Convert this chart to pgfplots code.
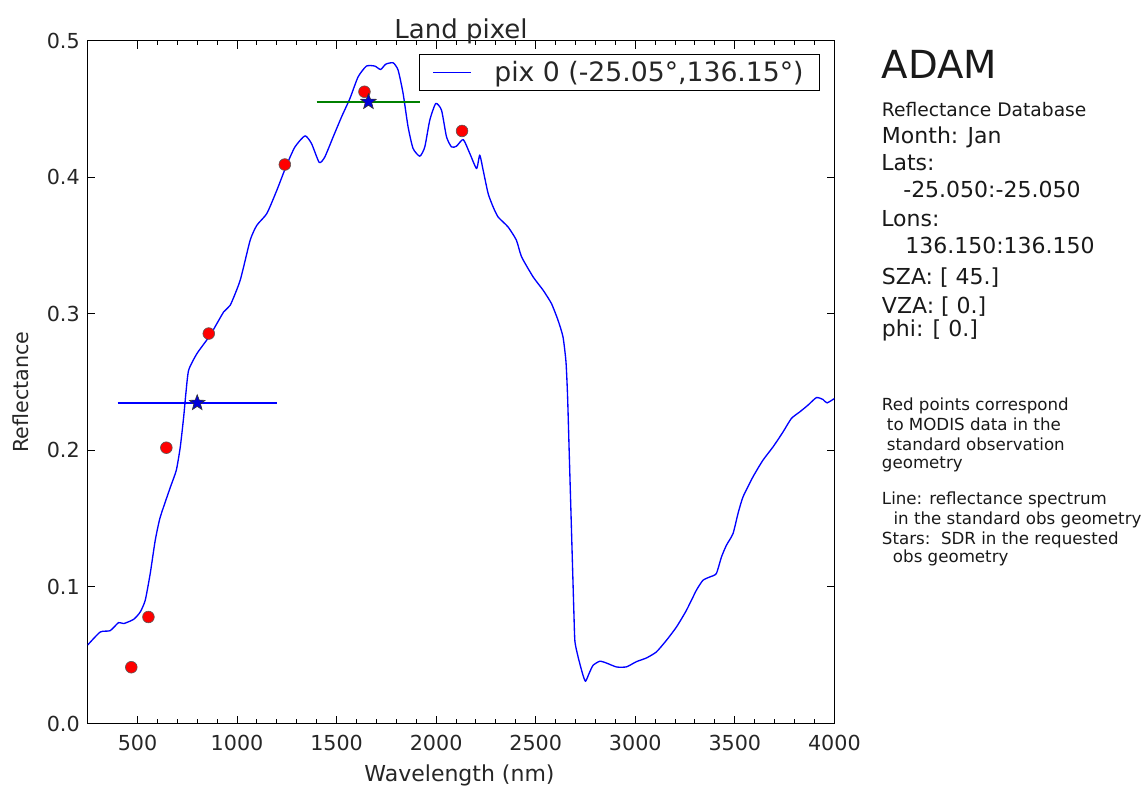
\documentclass[border=0pt]{standalone}
\usepackage{fontspec}
\setmainfont{DejaVu Sans}
\usepackage{pgfplots}
\pgfplotsset{compat=1.18}
\pgfdeclareplotmark{fstar}{%
  \pgfpathmoveto{\pgfpointpolar{90}{\pgfplotmarksize}}%
  \pgfpathlineto{\pgfpointpolar{126}{0.42\pgfplotmarksize}}%
  \pgfpathlineto{\pgfpointpolar{162}{\pgfplotmarksize}}%
  \pgfpathlineto{\pgfpointpolar{198}{0.42\pgfplotmarksize}}%
  \pgfpathlineto{\pgfpointpolar{234}{\pgfplotmarksize}}%
  \pgfpathlineto{\pgfpointpolar{270}{0.42\pgfplotmarksize}}%
  \pgfpathlineto{\pgfpointpolar{306}{\pgfplotmarksize}}%
  \pgfpathlineto{\pgfpointpolar{342}{0.42\pgfplotmarksize}}%
  \pgfpathlineto{\pgfpointpolar{18}{\pgfplotmarksize}}%
  \pgfpathlineto{\pgfpointpolar{54}{0.42\pgfplotmarksize}}%
  \pgfpathclose
  \pgfusepathqfillstroke
}
\definecolor{mplblue}{rgb}{0,0,1}
\definecolor{mplgreen}{rgb}{0,0.5,0}
\pgfplotstableread{
lam refl
250 0.0575
313 0.0670
363 0.0680
405 0.0739
431 0.0732
481 0.0763
514 0.0817
539 0.0903
564 0.1098
589 0.1340
614 0.1510
665 0.1730
695 0.1855
715 0.2026
732 0.2245
743 0.2417
757 0.2588
799 0.2710
865 0.2844
933 0.3015
966 0.3064
1016 0.3247
1066 0.3540
1100 0.3650
1150 0.3736
1200 0.3906
1249 0.4090
1291 0.4223
1341 0.4304
1374 0.4248
1413 0.4109
1441 0.4150
1483 0.4297
1525 0.4443
1567 0.4578
1608 0.4736
1650 0.4815
1692 0.4815
1721 0.4790
1747 0.4829
1784 0.4839
1809 0.4785
1834 0.4615
1859 0.4370
1884 0.4212
1918 0.4155
1943 0.4223
1968 0.4419
1998 0.4541
2027 0.4492
2052 0.4297
2077 0.4223
2102 0.4228
2136 0.4277
2169 0.4175
2203 0.4065
2219 0.4163
2236 0.4053
2261 0.3882
2286 0.3784
2311 0.3710
2361 0.3637
2403 0.3540
2429 0.3418
2487 0.3271
2537 0.3174
2579 0.3076
2612 0.2954
2637 0.2832
2652 0.2650
2660 0.2400
2668 0.2000
2678 0.1500
2684 0.1200
2692 0.0800
2697 0.0600
2713 0.0487
2735 0.0366
2750 0.0309
2768 0.0366
2788 0.0426
2822 0.0456
2855 0.0443
2906 0.0414
2956 0.0415
3006 0.0453
3056 0.0480
3106 0.0524
3157 0.0610
3207 0.0707
3257 0.0829
3307 0.0976
3340 0.1049
3374 0.1073
3407 0.1098
3433 0.1220
3458 0.1306
3491 0.1391
3516 0.1538
3541 0.1659
3591 0.1806
3641 0.1928
3692 0.2026
3742 0.2135
3784 0.2234
3826 0.2282
3867 0.2331
3910 0.2387
3943 0.2373
3963 0.2348
4000 0.2380
}\spectrum
\begin{document}
\begin{tikzpicture}
\useasboundingbox (-65.775pt,-47.625pt) rectangle (795.225pt,542.625pt);
\begin{axis}[
  scale only axis,
  width=560pt, height=512pt,
  xmin=250, xmax=4000, ymin=0, ymax=0.5,
  xtick={500,1000,...,4000},
  minor x tick num=4,
  ytick={0,0.1,0.2,0.3,0.4,0.5},
  scaled x ticks=false, scaled y ticks=false,
  tick align=inside,
  major tick length=5.8pt,
  minor tick length=3pt,
  every tick/.style={black, line width=0.75pt},
  axis line style={black, line width=0.9pt},
  /pgf/number format/assume math mode=true,
  xticklabel style={/pgf/number format/1000 sep={}, font=\fontsize{15.5}{18}\selectfont, inner sep=0pt, anchor=base, yshift=-19.9pt, text=black!85},
  yticklabel style={/pgf/number format/fixed, /pgf/number format/fixed zerofill, /pgf/number format/precision=1, font=\fontsize{15.5}{18}\selectfont, inner sep=0pt, anchor=east, xshift=-5.8pt, text=black!85},
  legend style={at={(0.981,0.9805)}, anchor=north east, draw=black, line width=0.8pt, fill=white,
    font=\fontsize{20}{24}\selectfont, inner xsep=10pt, inner ysep=3pt, text=black!85},
  legend image code/.code={\draw[#1, line width=1pt] (0pt,0pt) -- (28.5pt,0pt);},
  legend cell align=left,
]
\addplot[mplblue, line width=1pt, line join=round, smooth, tension=0.35] table[x=lam, y=refl] {\spectrum};
\addlegendentry{\hspace{15pt}pix 0 (-25.05°,136.15°)}
\addplot[mplblue, line width=1pt, forget plot] coordinates {(400,0.2348) (1200,0.2348)};
\addplot[mplgreen, line width=1pt, forget plot] coordinates {(1400,0.4553) (1920,0.4553)};
\addplot[only marks, mark=*, mark size=4.4pt, mark options={fill=red, draw=black!65, line width=0.45pt}, forget plot] coordinates {
(469,0.0412) (555,0.0780) (645,0.2020) (858,0.2856) (1240,0.4094) (1640,0.4627) (2130,0.4340)};
\addplot[only marks, mark=fstar, mark size=6.2pt, mark options={fill=mplblue!85!black, draw=black!80, line width=0.45pt}, forget plot] coordinates {
(800,0.2348) (1660,0.4553)};
\end{axis}
\node[anchor=base, inner sep=0pt, font=\fontsize{19.5}{23}\selectfont, text=black!85] at (280.0pt,513.85pt) {Land pixel};
\node[anchor=base, inner sep=0pt, font=\fontsize{16.5}{19}\selectfont, text=black!85] at (278.85pt,-43.65pt) {Wavelength (nm)};
\node[anchor=center, rotate=90, inner sep=0pt, font=\fontsize{15.5}{18}\selectfont, text=black!85] at (-50.5pt,248.6pt) {Reflectance};
\begin{scope}[every node/.style={anchor=base west, inner sep=0pt, text=black!90}]
\node[font=\fontsize{29}{34}\selectfont] at (595.5pt,483.9pt) {ADAM};
\node[font=\fontsize{14}{17}\selectfont] at (595.5pt,455.6pt) {Reflectance Database};
\node[font=\fontsize{16.5}{20}\selectfont] at (595.5pt,435.15pt) {Month: Jan};
\node[font=\fontsize{16.5}{20}\selectfont] at (595.0pt,415.1pt) {Lats:};
\node[font=\fontsize{16.5}{20}\selectfont] at (611.5pt,394.65pt) {-25.050:-25.050};
\node[font=\fontsize{16.5}{20}\selectfont] at (595.0pt,373.1pt) {Lons:};
\node[font=\fontsize{16.5}{20}\selectfont] at (613.0pt,352.65pt) {136.150:136.150};
\node[font=\fontsize{16.5}{20}\selectfont] at (595.5pt,328.9pt) {SZA: [ 45.]};
\node[font=\fontsize{16.5}{20}\selectfont] at (595.5pt,307.65pt) {VZA: [ 0.]};
\node[font=\fontsize{16.5}{20}\selectfont] at (595.5pt,290.6pt) {phi: [ 0.]};
\node[font=\fontsize{12.5}{15}\selectfont] at (595.5pt,234.4pt) {Red points correspond};
\node[font=\fontsize{12.5}{15}\selectfont] at (599.25pt,219.6pt) {to MODIS data in the};
\node[font=\fontsize{12.5}{15}\selectfont] at (599.25pt,204.6pt) {standard observation};
\node[font=\fontsize{12.5}{15}\selectfont] at (595.5pt,191.4pt) {geometry};
\node[font=\fontsize{12.5}{15}\selectfont] at (595.5pt,164.6pt) {Line: reflectance spectrum};
\node[font=\fontsize{12.5}{15}\selectfont] at (604.2pt,149.6pt) {in the standard obs geometry};
\node[font=\fontsize{12.5}{15}\selectfont] at (595.5pt,134.4pt) {Stars:\ \ SDR in the requested};
\node[font=\fontsize{12.5}{15}\selectfont] at (603.75pt,120.6pt) {obs geometry};
\end{scope}
\end{tikzpicture}
\end{document}
